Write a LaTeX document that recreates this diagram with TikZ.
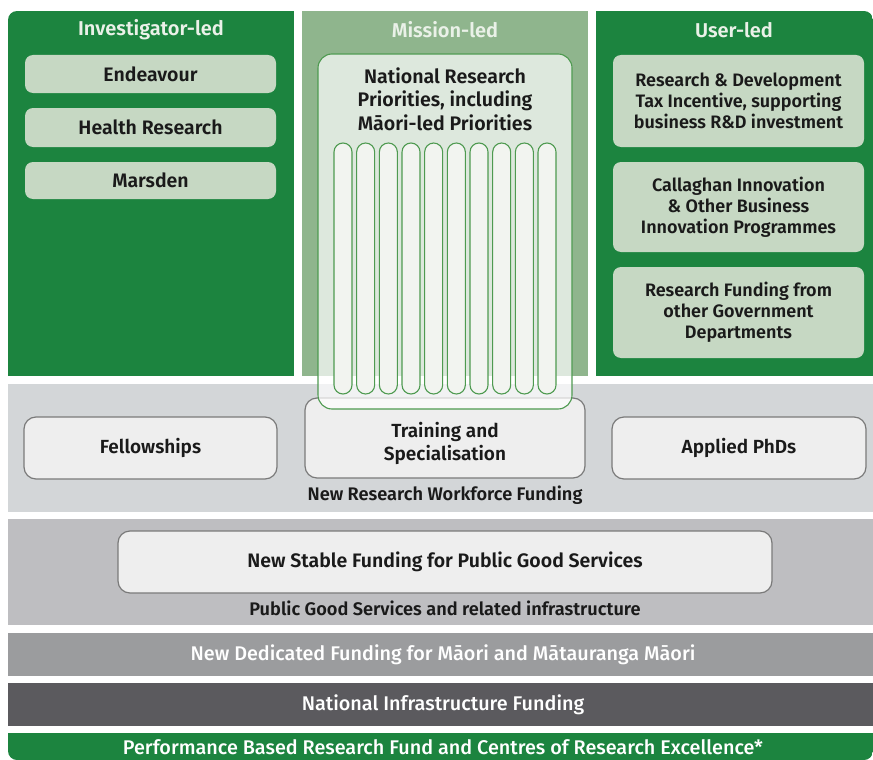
\documentclass[tikz,border=0pt]{standalone}
\usepackage{fontspec}
\setmainfont{Fira Sans}[UprightFont=* Medium, BoldFont=* SemiBold]
\definecolor{dkgreen}{HTML}{1C843F}
\definecolor{midgreen}{HTML}{8FB58D}
\definecolor{ltgreen}{HTML}{C6D8C3}
\definecolor{edgegreen}{HTML}{4E9A50}
\definecolor{pillfill}{HTML}{F2F4F0}
\definecolor{bandA}{HTML}{D3D6D8}
\definecolor{bandB}{HTML}{BEBEC1}
\definecolor{bandC}{HTML}{9B9C9E}
\definecolor{bandD}{HTML}{5B5A5E}
\definecolor{wbox}{HTML}{EEEEEE}
\definecolor{wedge}{HTML}{7A7A7A}
\definecolor{txt}{HTML}{1A1A1A}
\definecolor{headtxt}{HTML}{EAF1E8}
\tikzset{
  gbox/.style={fill=ltgreen, rounded corners=8pt, inner sep=0pt, text=txt, align=center,
    font=\bfseries\fontsize{18}{21}\selectfont},
  gboxone/.style={gbox, font=\bfseries\fontsize{19.5}{21}\selectfont},
  wbx/.style={fill=wbox, draw=wedge, line width=1.2pt, rounded corners=12pt, inner sep=0pt,
    text=txt, align=center, font=\bfseries\fontsize{19}{23}\selectfont},
  pill/.style={fill=pillfill, draw=edgegreen, line width=1.1pt, rounded corners=9pt,
    minimum width=18pt, minimum height=251pt, inner sep=0pt},
  head/.style={text=headtxt, font=\bfseries\fontsize{20}{20}\selectfont},
  lbl/.style={text=txt, font=\bfseries\fontsize{18.2}{20}\selectfont},
  blbl/.style={text=white, font=\fontsize{19.8}{20}\selectfont}
}
\begin{document}
\begin{tikzpicture}[x=1pt,y=-1pt]
\useasboundingbox (0,0) rectangle (873,760);
\begin{scope}
\clip[rounded corners=9pt] (8,11) rectangle (873,760);
% columns
\fill[dkgreen] (8,11) rectangle (294,376);
\fill[midgreen] (302,11) rectangle (588,376);
\fill[dkgreen] (596,11) rectangle (873,376);
% bands
\fill[bandA] (8,384) rectangle (873,512);
\fill[bandB] (8,519) rectangle (873,625);
\fill[bandC] (8,633) rectangle (873,676);
\fill[bandD] (8,683) rectangle (873,726);
\fill[dkgreen] (8,733) rectangle (873,760);
\end{scope}
% headings
\node[head] (hinv) at (151,30) {Investigator-led};
\node[head] (hmis) at (445,30) {Mission-led};
\node[head] (husr) at (734,30) {User-led};
% investigator boxes
\node[gboxone, minimum width=251pt, minimum height=38pt] (endv) at (150.5,74) {Endeavour};
\node[gboxone, minimum width=251pt, minimum height=39pt] (hres) at (150.5,127.5) {Health Research};
\node[gboxone, minimum width=251pt, minimum height=37pt] (mars) at (150.5,180.5) {Marsden};
% user-led boxes
\node[gbox, minimum width=251pt, minimum height=92pt] (rdti) at (738.5,101) {Research \& Development\\Tax Incentive, supporting\\business R\&D investment};
\node[gbox, minimum width=251pt, minimum height=90pt] (call) at (738.5,207) {Callaghan Innovation\\\& Other Business\\Innovation Programmes};
\node[gbox, minimum width=251pt, minimum height=91pt] (ogov) at (738.5,312.5) {Research Funding from\\other Government\\Departments};
% workforce band boxes
\node[wbx, minimum width=253pt, minimum height=62pt] (fell) at (150.5,448) {Fellowships};
\node[wbx, minimum width=254pt, minimum height=62pt] (aphd) at (739,448) {Applied PhDs};
\node[wbx, minimum width=280pt, minimum height=80pt] (train) at (445,438) {};
\node[text=txt, align=center, font=\bfseries\fontsize{19}{23}\selectfont] (traint) at (445,443.5) {Training and\\Specialisation};
\node[lbl] (wfl) at (445,495) {New Research Workforce Funding};
% mission box (translucent)
\node[fill=white, fill opacity=0.7, draw=edgegreen, draw opacity=1, line width=1.1pt,
  rounded corners=14pt, minimum width=254pt, minimum height=355pt, inner sep=0pt] (nrp) at (445,231.5) {};
\node[text=txt, align=center, font=\bfseries\fontsize{19.6}{23.5}\selectfont] (nrpt) at (445,99) {National Research\\Priorities, including\\Māori-led Priorities};
\foreach \i in {0,...,9} {
  \node[pill] (p\i) at ({343+22.67*\i},268.5) {};
}
% public good band
\node[wbx, minimum width=654pt, minimum height=62pt, font=\bfseries\fontsize{19.5}{20}\selectfont] (stable) at (445,562) {New Stable Funding for Public Good Services};
\node[lbl] (pgl) at (445,608) {Public Good Services and related infrastructure};
% lower bands
\node[blbl] (maori) at (443,655) {New Dedicated Funding for Māori and Mātauranga Māori};
\node[blbl] (nif) at (443,705) {National Infrastructure Funding};
\node[blbl] (pbrf) at (443,747) {Performance Based Research Fund and Centres of Research Excellence*};
\end{tikzpicture}
\end{document}
